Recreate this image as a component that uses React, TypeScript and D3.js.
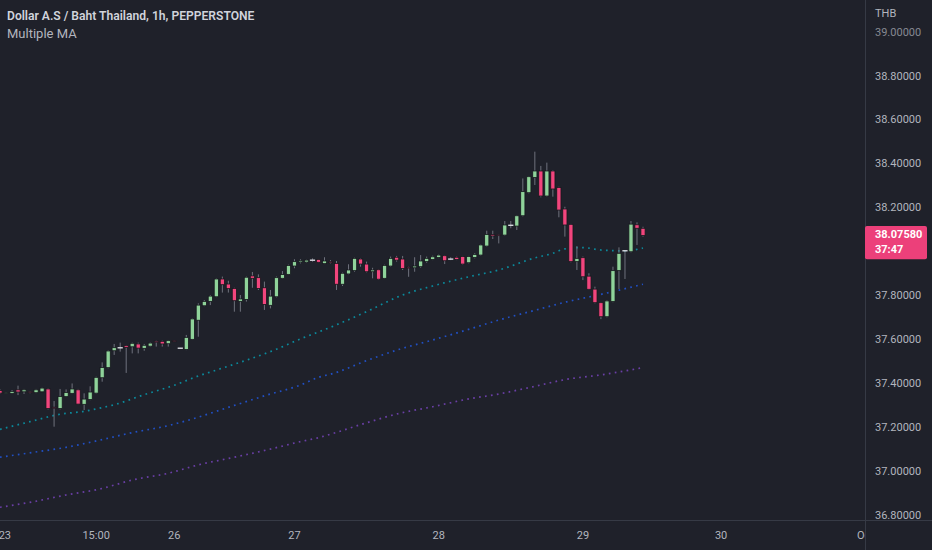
import React from "react";
import * as d3 from "d3";

const W = 932;
const H = 550;

const opens = [37.370,37.357,37.357,37.373,37.364,37.364,37.360,37.364,37.377,37.294,37.288,37.342,37.357,37.373,37.307,37.329,37.358,37.428,37.474,37.551,37.565,37.574,37.569,37.582,37.562,37.572,37.595,37.594,37.583,37.597,37.563,37.557,37.603,37.690,37.756,37.776,37.797,37.878,37.855,37.835,37.776,37.785,37.892,37.884,37.838,37.758,37.797,37.881,37.899,37.937,37.955,37.955,37.964,37.967,37.948,37.957,37.949,37.854,37.901,37.916,37.969,37.946,37.911,37.920,37.881,37.937,37.977,37.969,37.932,37.929,37.934,37.957,37.967,37.976,37.984,37.969,37.977,37.980,37.952,37.976,37.987,38.028,38.081,38.080,38.078,38.123,38.119,38.166,38.271,38.340,38.370,38.256,38.370,38.295,38.197,38.127,37.957,37.975,37.891,37.832,37.770,37.706,37.775,37.916,38.007,38.002,38.125,38.109];
const highs = [37.375,37.362,37.372,37.392,37.377,37.366,37.377,37.383,37.380,37.322,37.377,37.375,37.402,37.377,37.357,37.389,37.433,37.498,37.554,37.582,37.588,37.577,37.588,37.588,37.582,37.589,37.597,37.597,37.600,37.598,37.564,37.623,37.699,37.767,37.782,37.805,37.881,37.889,37.870,37.838,37.805,37.889,37.910,37.899,37.866,37.828,37.889,37.914,37.943,37.968,37.968,37.966,37.972,37.968,37.977,37.964,37.960,37.907,37.945,37.975,37.972,37.957,37.929,37.922,37.943,37.980,37.983,37.983,37.934,37.977,37.987,37.980,37.984,37.990,37.987,37.977,37.980,37.983,37.983,37.995,38.036,38.098,38.098,38.082,38.142,38.142,38.169,38.336,38.347,38.458,38.393,38.408,38.374,38.298,38.207,38.129,38.028,37.980,37.904,37.843,37.773,37.782,37.934,38.022,38.010,38.142,38.136,38.116];
const lows = [37.354,37.355,37.354,37.349,37.354,37.357,37.358,37.363,37.284,37.205,37.284,37.340,37.355,37.307,37.281,37.326,37.355,37.410,37.471,37.532,37.547,37.450,37.539,37.539,37.551,37.569,37.570,37.570,37.570,37.594,37.562,37.554,37.600,37.615,37.754,37.759,37.795,37.816,37.816,37.729,37.729,37.775,37.838,37.828,37.737,37.744,37.794,37.878,37.896,37.927,37.949,37.952,37.957,37.953,37.946,37.949,37.828,37.846,37.899,37.911,37.934,37.908,37.881,37.874,37.878,37.934,37.957,37.919,37.888,37.911,37.929,37.952,37.964,37.973,37.946,37.964,37.964,37.943,37.949,37.972,37.984,38.025,38.060,38.040,38.075,38.109,38.101,38.163,38.268,38.306,38.250,38.253,38.253,38.159,38.071,37.954,37.919,37.873,37.828,37.767,37.695,37.703,37.772,37.832,37.878,37.999,38.033,38.071];
const closes = [37.358,37.361,37.366,37.363,37.373,37.360,37.373,37.381,37.288,37.292,37.343,37.361,37.377,37.308,37.331,37.363,37.430,37.475,37.550,37.565,37.565,37.566,37.585,37.563,37.576,37.586,37.590,37.582,37.597,37.594,37.563,37.612,37.696,37.759,37.776,37.800,37.878,37.852,37.834,37.779,37.787,37.886,37.881,37.835,37.762,37.800,37.884,37.898,37.939,37.957,37.961,37.964,37.964,37.954,37.960,37.952,37.854,37.904,37.919,37.972,37.946,37.911,37.919,37.877,37.940,37.972,37.964,37.926,37.931,37.937,37.960,37.972,37.979,37.987,37.961,37.969,37.967,37.946,37.980,37.990,38.033,38.081,38.074,38.079,38.124,38.123,38.166,38.276,38.344,38.370,38.256,38.370,38.288,38.192,38.124,37.957,37.972,37.888,37.831,37.770,37.706,37.778,37.916,37.995,38.007,38.128,38.109,38.076];

const maFastIdx = [0, 5, 10, 14, 16, 19, 24, 29, 33, 36, 46, 50, 55, 61, 67, 72, 78, 83, 89, 92, 94, 97, 100, 104, 107];
const maFastVal = [37.193, 37.228, 37.262, 37.275, 37.286, 37.305, 37.351, 37.394, 37.436, 37.463, 37.558, 37.605, 37.658, 37.729, 37.805, 37.846, 37.888, 37.919, 37.974, 37.995, 38.015, 38.021, 38.010, 38.006, 38.019];
const maMidIdx = [0, 5.5, 11, 15.5, 22, 28, 31, 39, 44.4, 50, 53, 55.5, 61, 66.5, 72, 77.7, 83, 88.7, 94.3, 100, 107];
const maMidVal = [37.066, 37.088, 37.111, 37.137, 37.178, 37.210, 37.232, 37.302, 37.349, 37.395, 37.430, 37.448, 37.506, 37.558, 37.600, 37.646, 37.691, 37.733, 37.774, 37.808, 37.854];
const maSlowIdx = [0, 5.5, 11, 16.6, 22, 28, 33, 39, 44.4, 50, 53, 55.5, 61, 66.5, 72, 77.7, 83, 88.7, 94.3, 100, 107];
const maSlowVal = [36.838, 36.863, 36.894, 36.921, 36.962, 36.993, 37.031, 37.066, 37.099, 37.137, 37.155, 37.175, 37.223, 37.266, 37.296, 37.330, 37.354, 37.387, 37.421, 37.441, 37.474];

const timeTickIdx = [0.8, 16, 29, 49, 73, 97, 120, 144];
const timeTickLabels = ["23", "15:00", "26", "27", "28", "29", "30", "Oct"];
const priceTicks = [36.8, 37.0, 37.2, 37.4, 37.6, 37.8, 38.0, 38.2, 38.4, 38.6, 38.8, 39.0];

const lastPrice = 38.0758;
const countdown = "37:47";
const titleText = "Dollar A.S / Baht Thailand, 1h, PEPPERSTONE";
const indicatorText = "Multiple MA";
const currencyText = "THB";

const BG = "#1f212a";
const UP = "#8fd39a";
const DOWN = "#f2457d";
const WICK = "#6f727d";
const BORDER = "#16181d";
const AXIS_TXT = "#b2b5be";
const SEP = "#363a45";
const FONT = "Roboto, 'Open Sans', sans-serif";

export default function App() {
  const plotRight = 865;
  const plotBottom = 521;
  const x = d3.scaleLinear().domain([0, 107]).range([0, 643]);
  const y = d3.scaleLinear().domain([36.8, 39.0]).range([515.6, 32.7]);
  const bodyW = 4.2;

  const mkLine = (idx: number[], val: number[]) =>
    d3
      .line<number>()
      .x((_, i) => x(idx[i]))
      .y((v) => y(v))
      .curve(d3.curveMonotoneX)(val) || "";

  const candles = opens.map((o, i) => {
    const c = closes[i];
    const up = c >= o;
    const cx = x(i);
    const top = y(Math.max(o, c));
    const bot = y(Math.min(o, c));
    const doji = Math.abs(c - o) < 0.0008;
    return (
      <g key={i}>
        <line x1={cx} x2={cx} y1={y(highs[i])} y2={y(lows[i])} stroke={WICK} strokeWidth={1} />
        {doji ? (
          <rect x={cx - bodyW / 2 - 0.5} y={top - 0.6} width={bodyW + 1} height={1.4} fill="#d6d8de" />
        ) : (
          <rect
            x={cx - bodyW / 2}
            y={top}
            width={bodyW}
            height={Math.max(bot - top, 1)}
            fill={up ? UP : DOWN}
            stroke={BORDER}
            strokeWidth={0.8}
          />
        )}
      </g>
    );
  });

  const ly = y(lastPrice);
  const boxTop = ly - 9.6;
  const boxH = 33.3;
  // ticks hidden behind the last-price box are not drawn (as in the reference)
  const visibleTicks = priceTicks.filter((p) => {
    const py = y(p);
    return py < boxTop - 6 || py > boxTop + boxH + 6;
  });

  return (
    <svg width={W} height={H} style={{ position: "absolute", left: 0, top: 0, background: BG }}>
      <defs>
        <clipPath id="plotClip">
          <rect x={0} y={0} width={plotRight} height={plotBottom} />
        </clipPath>
        <clipPath id="timeClip">
          <rect x={0} y={plotBottom} width={plotRight} height={H - plotBottom} />
        </clipPath>
      </defs>
      <rect x={0} y={0} width={W} height={H} fill={BG} />
      <g clipPath="url(#plotClip)">
        <path d={mkLine(maSlowIdx, maSlowVal)} fill="none" stroke="#6a3fa6" strokeWidth={1.7} strokeDasharray="1.7 4.3" />
        <path d={mkLine(maMidIdx, maMidVal)} fill="none" stroke="#2150c4" strokeWidth={1.7} strokeDasharray="1.7 4.3" />
        <path d={mkLine(maFastIdx, maFastVal)} fill="none" stroke="#0b8a9c" strokeWidth={1.7} strokeDasharray="1.7 4.3" />
        {candles}
      </g>
      <line x1={plotRight + 0.5} x2={plotRight + 0.5} y1={0} y2={H} stroke={SEP} strokeWidth={1} />
      <line x1={0} x2={W} y1={plotBottom - 0.5} y2={plotBottom - 0.5} stroke={SEP} strokeWidth={1} />
      <text x={7} y={17} dominantBaseline="middle" fontFamily={FONT} fontSize={12.1} fontWeight={600} fill="#d1d4dc">
        {titleText}
      </text>
      <text x={7} y={35} dominantBaseline="middle" fontFamily={FONT} fontSize={13} fill="#b2b5be">
        {indicatorText}
      </text>
      <text x={875} y={14} dominantBaseline="middle" fontFamily={FONT} fontSize={11} fill={AXIS_TXT}>
        {currencyText}
      </text>
      {visibleTicks.map((p) => (
        <text
          key={p}
          x={875}
          y={y(p)}
          dominantBaseline="middle"
          fontFamily={FONT}
          fontSize={11}
          fill={AXIS_TXT}
          opacity={p >= 39 ? 0.7 : 1}
        >
          {p.toFixed(5)}
        </text>
      ))}
      <g clipPath="url(#timeClip)">
        {timeTickIdx.map((t, i) => (
          <text
            key={i}
            x={x(t)}
            y={536}
            textAnchor="middle"
            dominantBaseline="middle"
            fontFamily={FONT}
            fontSize={11}
            fill={AXIS_TXT}
          >
            {timeTickLabels[i]}
          </text>
        ))}
      </g>
      <rect x={plotRight} y={boxTop} width={62} height={boxH} rx={2} fill="#ec407a" />
      <text x={875} y={ly - 0.3} dominantBaseline="middle" fontFamily={FONT} fontSize={11} fontWeight={700} fill="#ffffff">
        {lastPrice.toFixed(5)}
      </text>
      <text x={875} y={ly + 14.6} dominantBaseline="middle" fontFamily={FONT} fontSize={11} fontWeight={700} fill="#ffffff">
        {countdown}
      </text>
    </svg>
  );
}
